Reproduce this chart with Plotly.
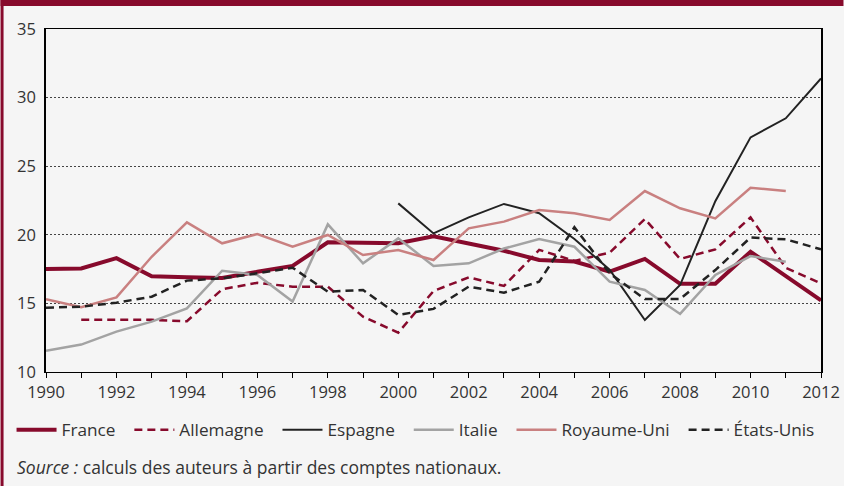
import plotly.graph_objects as go

years = list(range(1990, 2013))
france = [17.5, 17.55, 18.3, 16.97, 16.9, 16.85, 17.3, 17.73, 19.45, 19.45, 19.38, 19.9,
          19.4, 18.84, 18.16, 18.05, 17.31, 18.24, 16.43, 16.43, 18.77, 17.0, 15.22]
allemagne = [None, 13.8, 13.8, 13.8, 13.7, 16.03, 16.5, 16.22, 16.22, 14.03, 12.87, 15.9,
             16.9, 16.27, 18.9, 18.1, 18.7, 21.15, 18.24, 18.94, 21.27, 17.6, 16.46]
espagne = [None] * 10 + [22.29, 20.1, 21.27, 22.25, 21.57, 19.7, 17.45, 13.79, 16.34,
                         22.45, 27.1, 28.49, 31.4]
italie = [11.55, 12.0, 12.94, 13.67, 14.64, 17.38, 17.07, 15.13, 20.76, 17.92, 19.74, 17.73,
          17.92, 19.0, 19.69, 19.13, 16.58, 15.98, 14.23, 17.07, 18.45, 18.04, None]
royaume_uni = [15.3, 14.72, 15.44, 18.4, 20.91, 19.38, 20.06, 19.13, 19.99, 18.53, 18.89, 18.16,
               20.47, 20.96, 21.8, 21.57, 21.08, 23.19, 21.93, 21.2, 23.43, 23.19, None]
etats_unis = [14.69, 14.76, 15.05, 15.49, 16.66, 16.83, 17.19, 17.6, 15.85, 15.98, 14.16, 14.6,
              16.22, 15.78, 16.58, 20.55, 17.19, 15.32, 15.32, 17.43, 19.8, 19.67, 18.94]
x_tick_labels = [str(y) if y % 2 == 0 else "" for y in years]
y_ticks = [10, 15, 20, 25, 30, 35]

W, H = 844, 486
ML, MR, MT, MB = 45.5, 22.5, 29, 114
PW, PH = W - ML - MR, H - MT - MB

def px_x(p):
    return (p - ML) / PW

def px_y(p):
    return (H - MB - p) / PH

RED = "#870a2c"
FONT = "'Open Sans', sans-serif"
TXT = "#333333"
FS = 16.5
PAD = "\u00a0\u00a0"

series = [
    ("France", france, dict(color=RED, width=4)),
    ("Allemagne", allemagne, dict(color=RED, width=2.5, dash="8px,5px")),
    ("Espagne", espagne, dict(color="#222222", width=2)),
    ("Italie", italie, dict(color="#a3a3a3", width=2.5)),
    ("Royaume-Uni", royaume_uni, dict(color="#c98080", width=2.5)),
    ("États-Unis", etats_unis, dict(color="#222222", width=2.5, dash="8px,5px")),
]

fig = go.Figure()
for name, vals, line in series:
    fig.add_trace(go.Scatter(x=years, y=vals, name=name + PAD, mode="lines", line=line,
                             connectgaps=False))

fig.update_layout(
    width=W, height=H,
    margin=dict(l=ML, r=MR, t=MT, b=MB, pad=0, autoexpand=False),
    paper_bgcolor="#f5f5f5", plot_bgcolor="#f5f5f5",
    font=dict(family=FONT, size=FS, color=TXT),
    showlegend=True,
    legend=dict(orientation="h", x=px_x(11), xanchor="left", y=px_y(430), yanchor="middle",
                bgcolor="rgba(0,0,0,0)", font=dict(size=17.2, color=TXT),
                itemwidth=40, tracegroupgap=0),
    xaxis=dict(range=[1990, 2012], tickvals=years, ticktext=x_tick_labels,
               ticks="outside", ticklen=5, tickcolor="#000", tickwidth=1,
               showline=True, linecolor="#000", linewidth=1, mirror=True,
               showgrid=False, zeroline=False, tickfont=dict(size=FS, color=TXT)),
    yaxis=dict(range=[10, 35], tickvals=y_ticks, ticks="", showline=True,
               linecolor="#000", linewidth=1.5, mirror=True,
               showgrid=True, gridcolor="#444", gridwidth=1, griddash="2px,2px",
               zeroline=False, tickfont=dict(size=FS, color=TXT), ticklabelstandoff=5),
    shapes=[
        dict(type="rect", xref="paper", yref="paper", x0=px_x(0), x1=px_x(W),
             y0=px_y(6), y1=px_y(0), fillcolor=RED, line=dict(width=0), layer="above"),
        dict(type="rect", xref="paper", yref="paper", x0=px_x(0), x1=px_x(3),
             y0=px_y(H), y1=px_y(0), fillcolor=RED, line=dict(width=0), layer="above"),
    ],
    annotations=[
        dict(text="<i>Source :</i> calculs des auteurs à partir des comptes nationaux.",
             xref="paper", yref="paper", x=px_x(14), y=px_y(467), xanchor="left",
             yanchor="middle", showarrow=False, font=dict(size=17.5, color=TXT)),
    ],
)

fig.write_html("out.html", config={"displayModeBar": False},
               post_script="document.body.style.margin='0px';document.body.style.overflow='hidden';")
